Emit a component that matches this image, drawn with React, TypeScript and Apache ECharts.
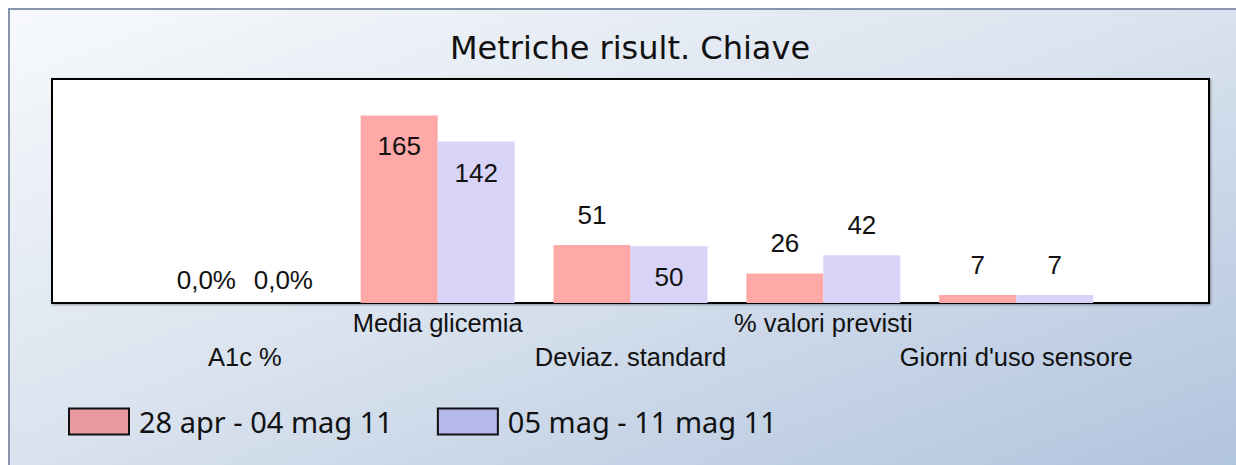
import React, { useEffect, useRef } from "react";
import * as echarts from "echarts";

const categories = ["A1c %", "Media glicemia", "Deviaz. standard", "% valori previsti", "Giorni d'uso sensore"];
const seriesNames = ["28 apr - 04 mag 11", "05 mag - 11 mag 11"];
const valuesFirst = [0, 165, 51, 26, 7];
const valuesSecond = [0, 142, 50, 42, 7];
const percentCategories = ["A1c %"];

// label placement (style only): "in" = inside the bar top, "out" = above
const placementFirst = ["out", "in", "out", "out", "out"];
const placementSecond = ["out", "in", "in", "out", "out"];

const barColors = ["#fea8a7", "#d8d4f8"];
const legendColors = ["#e99aa0", "#b5b8ea"];

const labelFont = "'Liberation Sans', Arial, sans-serif";

export default function App() {
  const ref = useRef<HTMLDivElement>(null);

  useEffect(() => {
    if (!ref.current) return;
    const chart = echarts.init(ref.current, null, { renderer: "svg" });

    const axisData = ["", ...categories, ""];

    const buildData = (values: number[], placement: string[]) => [
      null,
      ...values.map((v, i) => {
        const isPct = percentCategories.includes(categories[i]);
        const inside = placement[i] === "in";
        return {
          value: v,
          label: {
            position: inside ? "insideTop" : "top",
            distance: inside ? 18 : isPct ? 10 : 17,
          },
        };
      }),
      null,
    ];

    const labelFormatter = (p: any) => {
      const cat = axisData[p.dataIndex];
      if (percentCategories.includes(cat)) {
        return Number(p.value).toFixed(1).replace(".", ",") + "%";
      }
      return String(p.value);
    };

    const mkSeries = (idx: number, values: number[], placement: string[]) => ({
      type: "bar",
      name: seriesNames[idx],
      data: buildData(values, placement),
      barWidth: 77,
      barGap: "0%",
      itemStyle: { color: barColors[idx] },
      label: {
        show: true,
        formatter: labelFormatter,
        color: "#111",
        fontSize: 26,
        fontFamily: labelFont,
      },
    });

    chart.setOption({
      animation: false,
      backgroundColor: "transparent",
      title: {
        text: "Metriche risult. Chiave",
        left: 620,
        textAlign: "center",
        top: 22,
        padding: 0,
        textStyle: {
          fontFamily: "'DejaVu Sans', sans-serif",
          fontSize: 32,
          fontWeight: "normal",
          color: "#111",
          lineHeight: 32,
        },
      },
      grid: {
        left: 42,
        right: 27,
        top: 69,
        bottom: 162,
        show: true,
        backgroundColor: "#fff",
        borderColor: "#000",
        borderWidth: 2,
        shadowColor: "rgba(0,0,0,0.35)",
        shadowBlur: 2,
        shadowOffsetX: 1,
        shadowOffsetY: 1,
      },
      legend: {
        left: 58,
        top: 397,
        padding: 0,
        icon: "rect",
        itemWidth: 60,
        itemHeight: 26,
        itemGap: 44,
        textStyle: {
          fontFamily: "'Noto Sans', sans-serif",
          fontSize: 29,
          color: "#111",
          lineHeight: 28,
          padding: [0, 0, 0, 5],
        },
        data: seriesNames.map((n, i) => ({
          name: n,
          itemStyle: { color: legendColors[i], borderColor: "#111", borderWidth: 2 },
        })),
      },
      xAxis: {
        type: "category",
        data: axisData,
        boundaryGap: false,
        axisLine: { show: false },
        axisTick: { show: false },
        splitLine: { show: false },
        axisLabel: {
          interval: 0,
          hideOverlap: false,
          margin: 3,
          color: "#111",
          fontSize: 25.5,
          fontFamily: labelFont,
          lineHeight: 34,
          formatter: (value: string, index: number) =>
            index % 2 === 1 ? "\n" + value : value,
        },
      },
      yAxis: {
        type: "value",
        min: 0,
        max: 197,
        show: false,
        splitLine: { show: false },
      },
      series: [mkSeries(0, valuesFirst, placementFirst), mkSeries(1, valuesSecond, placementSecond)],
    });

    return () => chart.dispose();
  }, []);

  return (
    <div
      style={{
        position: "fixed",
        left: 8,
        top: 8,
        width: 1228,
        height: 457,
        boxSizing: "border-box",
        borderTop: "2px solid #8796ad",
        borderLeft: "2px solid #8796ad",
        background:
          "linear-gradient(to bottom right, #f7f9fc 0%, #d9e2ee 50%, #b1c4de 100%)",
      }}
    >
      <div ref={ref} style={{ width: 1226, height: 455 }} />
    </div>
  );
}
